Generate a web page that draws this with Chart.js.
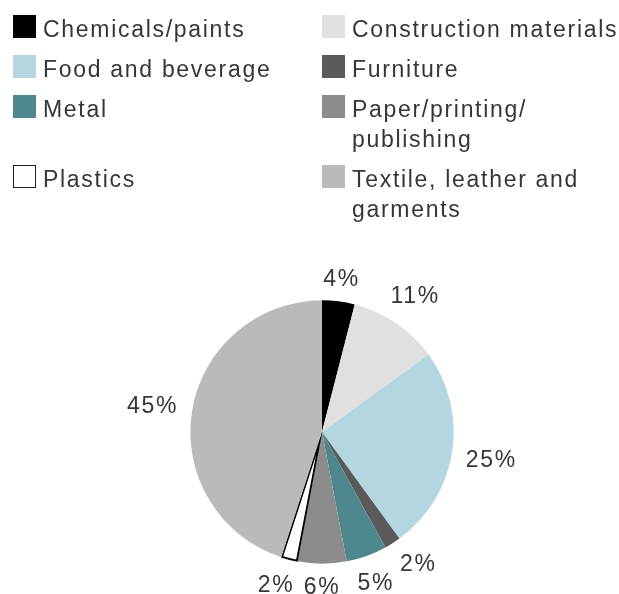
<!DOCTYPE html>
<html>
<head>
<meta charset="utf-8">
<script src="https://cdn.jsdelivr.net/npm/chart.js@4"></script>
<style>
    html, body { margin: 0; padding: 0; background: #fff; }
    #wrap { position: relative; width: 619px; height: 594px; overflow: hidden; }
    #pie { position: absolute; left: 0; top: 0; }
    .legend {
        position: absolute; left: 13px; top: 14px;
        display: grid; grid-template-columns: 309px 300px; row-gap: 10px;
        font-family: "Liberation Sans", Arial, sans-serif; font-size: 23px;
        letter-spacing: 1.7px; line-height: 30px; color: #363636;
    }
    .legend .item { display: flex; align-items: flex-start; }
    .legend .swatch { flex: none; width: 23px; height: 23px; margin-top: 1px; margin-right: 7px; box-sizing: border-box; }
    .legend .label { width: 272px; }
</style>
</head>
<body>
<div id="wrap">
    <canvas id="pie" width="619" height="594"></canvas>
    <div class="legend" id="legend"></div>
</div>
<script>
// sector shares, clockwise from 12 o'clock
const sectors = ['Chemicals/paints', 'Construction materials', 'Food and beverage', 'Furniture',
    'Metal', 'Paper/printing/publishing', 'Plastics', 'Textile, leather and garments'];
const shares = [4, 11, 25, 2, 5, 6, 2, 45];
const sliceColors = ['#000000', '#e0e0e0', '#b4d6e1', '#5a5a5a', '#4f878e', '#8c8c8c', '#ffffff', '#bababa'];

const FONT = '23px "Liberation Sans", Arial, sans-serif';

function buildLegend() {
    const box = document.getElementById('legend');
    sectors.forEach((name, i) => {
        const item = document.createElement('div');
        item.className = 'item';
        const sw = document.createElement('span');
        sw.className = 'swatch';
        sw.style.background = sliceColors[i];
        if (sliceColors[i] === '#ffffff') sw.style.border = '1.5px solid #222';
        const lb = document.createElement('span');
        lb.className = 'label';
        // allow the long sector names to break after a slash
        lb.textContent = name.replace(/\//g, '/\u200b');
        item.appendChild(sw);
        item.appendChild(lb);
        box.appendChild(item);
    });
}

// percent labels just outside each slice; when two neighbours collide,
// the label of the smaller slice slides away along the rim
const outsideLabels = {
    id: 'outsideLabels',
    afterDatasetsDraw(chart) {
        const ctx = chart.ctx;
        const arcs = chart.getDatasetMeta(0).data;
        ctx.save();
        ctx.font = FONT;
        if ('letterSpacing' in ctx) ctx.letterSpacing = '1.7px';
        ctx.fillStyle = '#363636';
        ctx.textAlign = 'center';
        ctx.textBaseline = 'alphabetic';
        const capH = 16.5;
        const gap = 13;
        const step = Math.PI / 360;

        const boxAt = (p, ang, w) => {
            const c = Math.cos(ang), s = Math.sin(ang);
            const r = p.outerRadius + gap + Math.abs(c) * w / 2 + Math.abs(s) * capH / 2;
            const cx = p.x + c * r, cy = p.y + s * r;
            return { cx, cy, l: cx - w / 2, r: cx + w / 2, t: cy - capH / 2, b: cy + capH / 2 };
        };
        const overlap = (a, q) =>
            a.l < q.r + 8 && a.r > q.l - 8 && a.t < q.b + 2 && a.b > q.t - 2;

        const items = arcs.map((arc, i) => {
            const p = arc.getProps(['x', 'y', 'startAngle', 'endAngle', 'outerRadius'], true);
            const txt = shares[i] + '%';
            const w = ctx.measureText(txt).width;
            const ang = (p.startAngle + p.endAngle) / 2;
            return { p, txt, w, ang, box: boxAt(p, ang, w) };
        });

        for (let pass = 0; pass < 120; pass++) {
            let moved = false;
            for (let i = 0; i < items.length - 1; i++) {
                const a = items[i], b = items[i + 1];
                if (!overlap(a.box, b.box)) continue;
                if (shares[i] <= shares[i + 1]) {
                    a.ang -= step;
                    a.box = boxAt(a.p, a.ang, a.w);
                } else {
                    b.ang += step;
                    b.box = boxAt(b.p, b.ang, b.w);
                }
                moved = true;
            }
            if (!moved) break;
        }

        items.forEach((it) => ctx.fillText(it.txt, it.box.cx, it.box.cy + capH / 2));
        ctx.restore();
    }
};

buildLegend();

new Chart(document.getElementById('pie'), {
    type: 'pie',
    data: {
        labels: sectors,
        datasets: [{
            data: shares,
            backgroundColor: sliceColors,
            borderColor: '#000',
            borderWidth: sliceColors.map((c) => (c === '#ffffff' ? 1.5 : 0)),
            borderAlign: 'inner'
        }]
    },
    options: {
        responsive: false,
        animation: false,
        layout: { padding: { top: 300, bottom: 30, left: 190, right: 165 } },
        plugins: {
            legend: { display: false },
            tooltip: { enabled: false }
        }
    },
    plugins: [outsideLabels]
});
</script>
</body>
</html>
